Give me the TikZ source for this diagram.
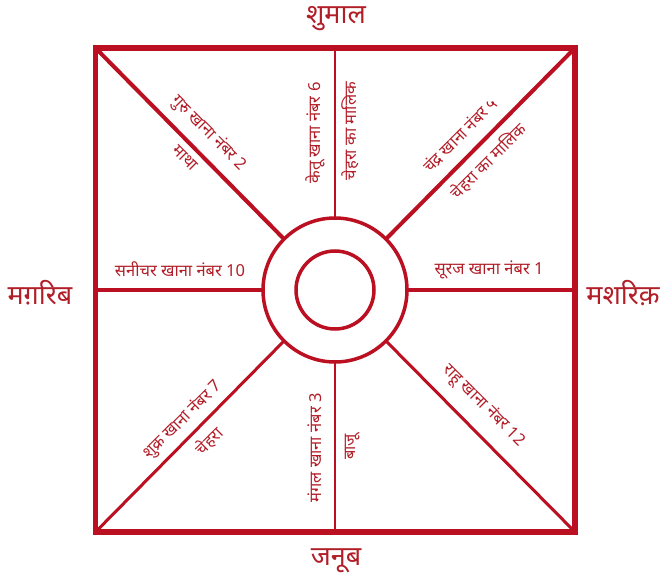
\documentclass[tikz,border=0pt]{standalone}
\usepackage{fontspec}
\usetikzlibrary{calc}
\newfontfamily\dev[Script=Devanagari]{Noto Sans}
\definecolor{kred}{RGB}{186,16,34}
\definecolor{tred}{RGB}{178,30,40}
\begin{document}
\begin{tikzpicture}[x=1pt,y=-1pt,
  frame/.style={draw=kred,line width=5.5pt},
  thickln/.style={draw=kred,line width=4pt},
  midln/.style={draw=kred,line width=3pt},
  thinln/.style={draw=kred,line width=2pt},
  ring/.style={draw=kred,line width=3.5pt},
  lbl/.style={text=tred,font=\dev\fontsize{16.5}{18}\selectfont,inner sep=0pt},
  dir/.style={text=tred,font=\dev\fontsize{27}{30}\selectfont,inner sep=0pt}]
\useasboundingbox (0,0) rectangle (662,575);
\coordinate (c) at (335,290);
\coordinate (tl) at (95.5,48);
\coordinate (tr) at (575,48);
\coordinate (bl) at (95.5,532);
\coordinate (br) at (575,532);
% circle contact points
\coordinate (ctl) at ($(c)+(-51,-51)$);
\coordinate (ctr) at ($(c)+(51,-51)$);
\coordinate (cbl) at ($(c)+(-51,51)$);
\coordinate (cbr) at ($(c)+(51,51)$);
\coordinate (cl) at ($(c)+(-72,0)$);
\coordinate (cr) at ($(c)+(72,0)$);
\coordinate (ct) at ($(c)+(0,-72)$);
\coordinate (cb) at ($(c)+(0,72)$);
\coordinate (ml) at (95.5,290);
\coordinate (mr) at (575,290);
\coordinate (mt) at (335,48);
\coordinate (mb) at (335,532);
% lines
\path[thickln] (tl) -- (ctl);
\path[thickln] (tr) -- (ctr);
\path[midln] (bl) -- (cbl);
\path[midln] (br) -- (cbr);
\path[thickln] (ml) -- (cl);
\path[thickln] (mr) -- (cr);
\path[thinln] (mt) -- (ct);
\path[thinln] (mb) -- (cb);
\path[frame] (tl) rectangle (br);
\path[ring] (c) circle (72);
\path[ring] (c) circle (39);
% labels
\node[lbl,rotate=-45] (guru) at (209,133) {गुरु खाना नंबर 2};
\node[lbl,rotate=-45] (matha) at (185,158) {माथा};
\node[lbl,rotate=90] (ketu) at (315,133) {केतू खाना नंबर 6};
\node[lbl,rotate=90] (chm1) at (350,131) {चेहरा का मालिक};
\node[lbl,rotate=45] (chandra) at (460,135) {चंद्र खाना नंबर ५};
\node[lbl,rotate=45] (chm2) at (488,161) {चेहरा का मालिक};
\node[lbl] (sani) at (180,269) {सनीचर खाना नंबर 10};
\node[lbl] (suraj) at (489,270) {सूरज खाना नंबर 1};
\node[lbl,rotate=45] (shukra) at (183,420) {शुक्र खाना नंबर 7};
\node[lbl,rotate=45] (chehra) at (209,441) {चेहरा};
\node[lbl,rotate=90] (mangal) at (315,448) {मंगल खाना नंबर 3};
\node[lbl,rotate=90] (baju) at (353,447) {बाजू};
\node[lbl,rotate=-45] (rahu) at (484,406) {राहू खाना नंबर 12};
% directions
\node[dir] (n) at (336,19) {शुमाल};
\node[dir] (w) at (40,293) {मग़रिब};
\node[dir] (e) at (623,293) {मशरिक़};
\node[dir] (s) at (336,561) {जनूब};
\end{tikzpicture}
\end{document}
